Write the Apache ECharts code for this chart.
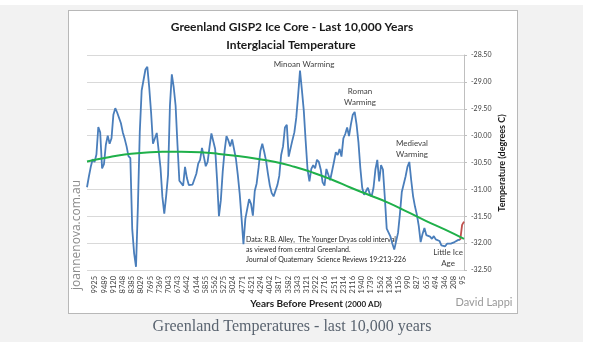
<!DOCTYPE html>
<html>
<head>
<meta charset="utf-8">
<script src="https://cdn.jsdelivr.net/npm/echarts@6/dist/echarts.min.js"></script>
<style>
  html, body { margin: 0; padding: 0; background: #fff; }
  #panel { position: absolute; left: 0; top: 5px; width: 583px; height: 337px; background: #f2f2f2; }
  #box { position: absolute; left: 68px; top: 10px; width: 448px; height: 302px; background: #fff; border: 1px solid #b8b8b8; }
  #chart { position: absolute; left: 0; top: 0; width: 601px; height: 350px; }
</style>
</head>
<body>
<div id="panel"></div>
<div id="box"></div>
<div id="chart"></div>
<script>
// x axis tick labels, years before present
const yearLabels = ['9925', '9489', '9120', '8748', '8385', '8029', '7695', '7369', '7043', '6743',
  '6442', '6144', '5855', '5562', '5275', '5024', '4771', '4521', '4294', '4042',
  '3817', '3582', '3343', '3121', '2922', '2716', '2511', '2314', '2116', '1940',
  '1739', '1562', '1304', '1156', '990', '827', '655', '494', '346', '208', '95'];

// GISP2 temperature samples (deg C), oldest first
const gisp2Temps = [
  -30.96, -30.76, -30.58, -30.44, -30.49, -30.35, -29.84, -29.94, -30.61, -30.53,
  -30.17, -30.00, -30.15, -30.05, -29.61, -29.49, -29.57, -29.58, -29.77, -29.94,
  -30.06, -30.20, -30.38, -30.42, -31.74, -32.19, -32.44, -31.32, -29.93, -29.16,
  -29.14, -28.77, -28.72, -29.10, -29.57, -30.15, -30.13, -29.95, -29.94, -30.60,
  -31.14, -31.45, -31.12, -30.73, -29.44, -28.86, -29.10, -29.44, -30.17, -30.84,
  -30.81, -30.93, -30.58, -30.79, -30.92, -30.94, -30.91, -30.91, -30.71, -30.52,
  -30.45, -30.23, -30.39, -30.57, -30.49, -30.21, -29.96, -29.99, -30.25, -30.82,
  -31.50, -31.20, -30.67, -30.28, -30.01, -30.09, -30.20, -30.07, -30.08, -30.43,
  -30.73, -31.08, -31.54, -32.02, -31.55, -31.56, -31.18, -31.27, -31.49, -31.03,
  -30.89, -30.60, -30.28, -30.15, -30.30, -30.47, -30.71, -30.93, -31.07, -31.13,
  -31.11, -30.92, -30.75, -30.36, -30.20, -29.85, -29.80, -30.39, -30.40, -30.08,
  -29.94, -29.67, -29.25, -28.79, -29.15, -29.53, -30.10, -30.63, -30.85, -30.62,
  -30.55, -30.61, -30.45, -30.49, -30.63, -30.87, -30.93, -30.62, -30.65, -30.83,
  -30.80, -30.49, -30.31, -30.36, -30.25, -30.39, -30.05, -29.97, -29.85, -30.01,
  -29.79, -29.61, -29.56, -29.79, -30.12, -30.60, -30.97, -31.10, -31.07, -30.97,
  -31.08, -31.13, -30.97, -30.63, -30.45, -30.85, -30.55, -30.63, -31.15, -31.73,
  -31.76, -31.88, -32.01, -32.12, -32.14, -31.81, -31.46, -31.05, -31.02, -30.76,
  -30.58, -30.49, -30.83, -31.13, -31.32, -31.47, -31.68, -31.98, -31.83, -31.72,
  -31.85, -31.82, -31.88, -31.92, -31.87, -31.93, -31.95, -31.96, -32.04, -32.01,
  -32.06, -32.01, -32.02, -32.01, -32.01, -31.98, -32.00, -31.94, -31.94
];

// last few samples drawn in red
const recentTemps = [-31.94, -31.66, -31.60];

// polynomial trend, one value every 10 samples
const trendTemps = [-30.48, -30.41, -30.35, -30.32, -30.30, -30.30, -30.31, -30.34, -30.38, -30.43,
  -30.49, -30.58, -30.69, -30.82, -30.97, -31.11, -31.25, -31.42, -31.59, -31.75, -31.92];
const trendStep = 10;

const sampleCount = gisp2Temps.length + recentTemps.length - 1;
const sampleIdx = Array.from({ length: sampleCount }, (_, i) => String(i));
const redStart = gisp2Temps.length - 1;

const chart = echarts.init(document.getElementById('chart'), null, { renderer: 'canvas' });

const FONT = 'Lato, "Open Sans", sans-serif';
const noteStyle = { fontSize: 8, fontFamily: FONT, fill: '#404040', align: 'center', verticalAlign: 'middle', lineHeight: 11 };

const option = {
  backgroundColor: 'transparent',
  animation: false,
  grid: [
    { left: 87, top: 55, width: 377, height: 215 },
    { left: 95, top: 55, width: 368, height: 215 }
  ],
  xAxis: [
    {
      type: 'category', gridIndex: 0, data: sampleIdx, boundaryGap: false,
      axisLine: { show: false }, axisTick: { show: false }, axisLabel: { show: false }
    },
    {
      type: 'category', gridIndex: 1, data: yearLabels, boundaryGap: false,
      axisLine: { show: false }, axisTick: { show: false },
      axisLabel: { interval: 0, rotate: 90, fontSize: 7.5, fontFamily: FONT, color: '#404040', margin: 6 }
    }
  ],
  yAxis: [
    {
      type: 'value', gridIndex: 0, position: 'right',
      min: -32.5, max: -28.5, interval: 0.5,
      axisLine: { show: true, lineStyle: { color: '#bfbfbf' } },
      axisTick: { show: true, length: 3, lineStyle: { color: '#bfbfbf' } },
      axisLabel: { formatter: v => v.toFixed(2), fontSize: 7, fontFamily: FONT, color: '#404040', margin: 7 },
      splitLine: { lineStyle: { color: '#d9d9d9', width: 1 } }
    },
    { type: 'value', gridIndex: 1, show: false, min: -32.5, max: -28.5 }
  ],
  series: [
    {
      name: 'GISP2', type: 'line', xAxisIndex: 0, yAxisIndex: 0,
      data: gisp2Temps, showSymbol: false, symbol: 'none',
      lineStyle: { color: '#4a7ebb', width: 1.8 }, z: 3
    },
    {
      name: 'Recent', type: 'line', xAxisIndex: 0, yAxisIndex: 0,
      data: recentTemps.map((v, i) => [redStart + i, v]), showSymbol: false, symbol: 'none',
      lineStyle: { color: '#c0504d', width: 1.8 }, z: 3
    },
    {
      name: 'Trend', type: 'line', xAxisIndex: 0, yAxisIndex: 0,
      data: trendTemps.map((v, i) => [i * trendStep, v]), smooth: true, showSymbol: false, symbol: 'none',
      lineStyle: { color: '#1fb04a', width: 2 }, z: 4
    }
  ],
  graphic: [
    { type: 'text', x: 292, y: 27, style: { text: 'Greenland GISP2 Ice Core - Last 10,000 Years', fontSize: 12, fontWeight: 'bold', fontFamily: FONT, fill: '#1a1a1a', align: 'center', verticalAlign: 'middle' } },
    { type: 'text', x: 291, y: 45, style: { text: 'Interglacial Temperature', fontSize: 12, fontWeight: 'bold', fontFamily: FONT, fill: '#1a1a1a', align: 'center', verticalAlign: 'middle' } },
    { type: 'text', x: 304, y: 64, style: Object.assign({}, noteStyle, { text: 'Minoan Warming' }) },
    { type: 'text', x: 360, y: 97, style: Object.assign({}, noteStyle, { text: 'Roman\nWarming' }) },
    { type: 'text', x: 412, y: 149, style: Object.assign({}, noteStyle, { text: 'Medieval\nWarming' }) },
    { type: 'text', x: 448, y: 258, style: Object.assign({}, noteStyle, { text: 'Little Ice\nAge' }) },
    { type: 'text', x: 246, y: 250, style: { text: 'Data: R.B. Alley,  The Younger Dryas cold interval\nas viewed from central Greenland.\nJournal of Quaternary  Science Reviews 19:213-226', fontSize: 7, fontFamily: FONT, fill: '#262626', align: 'left', verticalAlign: 'middle', lineHeight: 10 } },
    { type: 'text', x: 316, y: 304, style: { text: '{a|Years Before Present }{b|(2000 AD)}', rich: { a: { fontSize: 10, fontWeight: 'bold', fontFamily: FONT, fill: '#1a1a1a' }, b: { fontSize: 8, fontWeight: 'bold', fontFamily: FONT, fill: '#1a1a1a' } }, align: 'center', verticalAlign: 'middle' } },
    { type: 'text', x: 502, y: 163, rotation: Math.PI / 2, style: { text: 'Temperature (degrees C)', fontSize: 9, fontWeight: 'bold', fontFamily: FONT, fill: '#1a1a1a', align: 'center', verticalAlign: 'middle' } },
    { type: 'text', x: 484, y: 302, style: { text: 'David Lappi', fontSize: 11, fontFamily: FONT, fill: '#999999', align: 'center', verticalAlign: 'middle' } },
    { type: 'text', x: 77, y: 235, rotation: Math.PI / 2, style: { text: 'joannenova.com.au', fontSize: 12, fontFamily: '"Open Sans", sans-serif', fill: '#8c8c8c', align: 'center', verticalAlign: 'middle' } },
    { type: 'text', x: 292, y: 327, style: { text: 'Greenland Temperatures - last 10,000 years', fontSize: 16, fontFamily: '"Liberation Serif", serif', fill: '#5a6470', align: 'center', verticalAlign: 'middle' } }
  ]
};

chart.setOption(option);
window.addEventListener('resize', () => chart.resize());
</script>
</body>
</html>
